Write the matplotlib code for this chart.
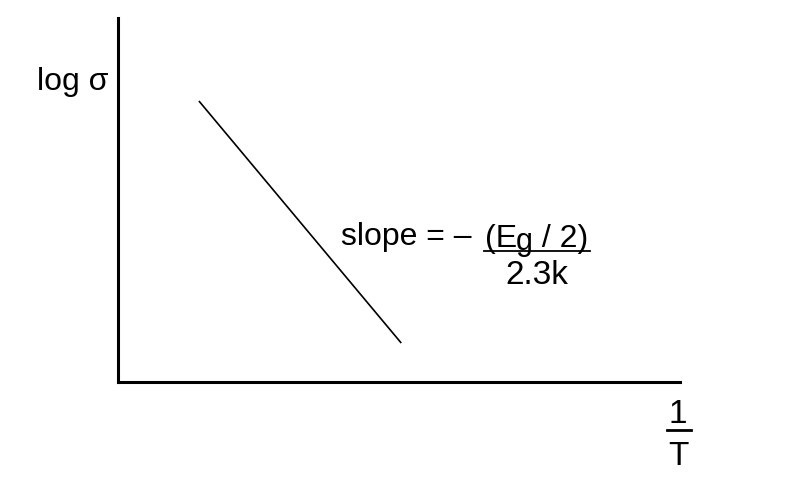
import matplotlib
matplotlib.use("Agg")
import matplotlib.pyplot as plt
from matplotlib.lines import Line2D

plt.rcParams['font.family'] = ['Liberation Sans', 'DejaVu Sans']

# Data: schematic straight line log(sigma) vs 1/T
inv_T = [0.144, 0.504]
log_sigma = [0.772, 0.107]
y_label = "log σ"
x_num, x_den = "1", "T"
slope_lhs = "slope = – "
slope_num_parts = ["(E", "g", " / 2)"]
slope_den = "2.3k"

W, H = 800, 500
fig = plt.figure(figsize=(8, 5), dpi=100)
fig.patch.set_facecolor('white')

def fx(px):
    return px / W

def fy(py):
    return 1 - py / H

ax = fig.add_axes([fx(118), fy(382), fx(680) - fx(118), fy(18) - fy(382)])
ax.set_xlim(0, 1)
ax.set_ylim(0, 1)
for s in ['top', 'right']:
    ax.spines[s].set_visible(False)
for s in ['left', 'bottom']:
    ax.spines[s].set_linewidth(2.2)
    ax.spines[s].set_color('black')
ax.set_xticks([])
ax.set_yticks([])
ax.plot(inv_T, log_sigma, color='black', lw=1.2, solid_capstyle='butt')

fig.text(fx(108), fy(90), y_label, ha='right', va='baseline', fontsize=23)

fig.text(fx(341), fy(245), slope_lhs, ha='left', va='baseline', fontsize=23)
fig.text(fx(485), fy(247), slope_num_parts[0], ha='left', va='baseline', fontsize=23)
fig.text(fx(516), fy(250), slope_num_parts[1], ha='left', va='baseline', fontsize=22)
fig.text(fx(533), fy(247), slope_num_parts[2], ha='left', va='baseline', fontsize=23)
fig.add_artist(Line2D([fx(484), fx(590)], [fy(251), fy(251)], transform=fig.transFigure,
                      color='black', lw=1.3))
fig.text(fx(537), fy(284), slope_den, ha='center', va='baseline', fontsize=24)

fig.text(fx(678), fy(423), x_num, ha='center', va='baseline', fontsize=24)
fig.add_artist(Line2D([fx(667), fx(691)], [fy(430), fy(430)], transform=fig.transFigure,
                      color='black', lw=2.0))
fig.text(fx(678), fy(465), x_den, ha='center', va='baseline', fontsize=24)

fig.savefig('out.png', dpi=100, facecolor='white')
